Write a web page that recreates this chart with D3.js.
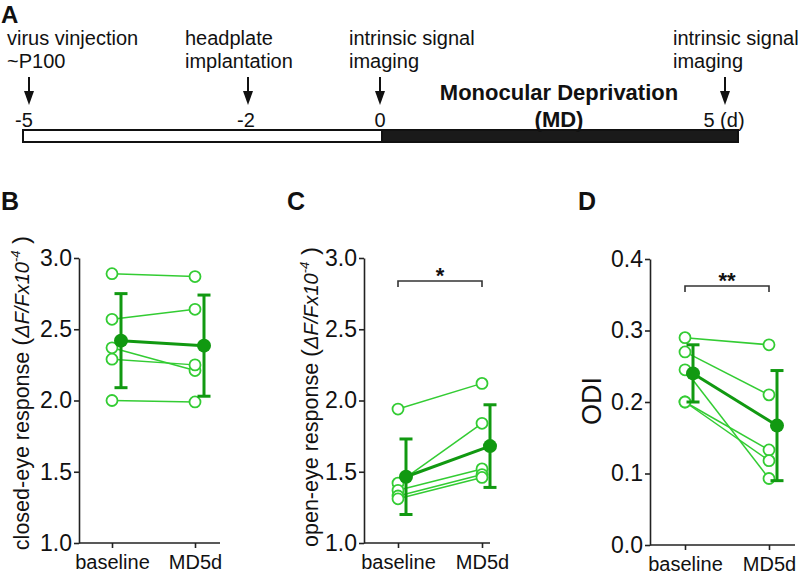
<!DOCTYPE html>
<html>
<head>
<meta charset="utf-8">
<script src="https://cdn.jsdelivr.net/npm/d3@7/dist/d3.min.js"></script>
<style>
  html, body { margin: 0; padding: 0; background: #fff; }
  svg { display: block; }
  text { font-family: "Liberation Sans", Arial, Helvetica, sans-serif; fill: #111; }
</style>
</head>
<body>
<div id="chart"></div>
<script>
// ---------------- DATA ----------------
const categories = ["baseline", "MD5d"];

// Panel B: closed-eye response
const closedBaseline = [2.89, 2.57, 2.37, 2.29, 2.00];
const closedMD5d     = [2.87, 2.64, 2.21, 2.25, 1.99];
const closedMean     = [2.42, 2.385];
const closedSD       = [0.33, 0.355];

// Panel C: open-eye response
const openBaseline = [1.94, 1.42, 1.37, 1.33, 1.31];
const openMD5d     = [2.12, 1.84, 1.52, 1.48, 1.46];
const openMean     = [1.465, 1.68];
const openSD       = [0.265, 0.29];

// Panel D: ODI
const odiBaseline = [0.29, 0.27, 0.245, 0.20, 0.20];
const odiMD5d     = [0.28, 0.21, 0.093, 0.133, 0.118];
const odiMean     = [0.24, 0.167];
const odiSD       = [0.04, 0.077];

const respTicks = [1.0, 1.5, 2.0, 2.5, 3.0];
const odiTicks  = [0.0, 0.1, 0.2, 0.3, 0.4];

// Panel A: timeline
const eventDays   = [-5, -2, 0, 5];
const eventLabels = [["virus vinjection", "~P100"], ["headplate", "implantation"],
                     ["intrinsic signal", "imaging"], ["intrinsic signal", "imaging"]];
const dayTickLabels = ["-5", "-2", "0", "5 (d)"];
const mdLabel = ["Monocular Deprivation", "(MD)"];

// ---------------- LAYOUT ----------------
const W = 800, H = 574;
const FONT = '"Liberation Sans", Arial, Helvetica, sans-serif';
const cInd = "#33cc33", cMean = "#119911";

const svg = d3.select("#chart").append("svg").attr("width", W).attr("height", H);

// Panel letters
const letters = [["A", 1, 23, 24], ["B", 1, 210, 25], ["C", 287, 210, 25], ["D", 578, 210, 25]];
svg.selectAll("text.letter").data(letters).join("text")
  .attr("class", "letter").attr("x", d => d[1]).attr("y", d => d[2])
  .attr("font-size", d => d[3]).attr("font-weight", "bold").text(d => d[0]);

// ---------- Panel A ----------
const tx = d3.scaleLinear().domain([-5, 5]).range([27, 737]);
const barL = 23, barR = 738, barY = 130, barH = 12;
svg.append("rect").attr("x", barL).attr("y", barY).attr("width", tx(0) - barL).attr("height", barH)
  .attr("fill", "#fff").attr("stroke", "#111").attr("stroke-width", 2);
svg.append("rect").attr("x", tx(0)).attr("y", barY).attr("width", barR - tx(0)).attr("height", barH)
  .attr("fill", "#1a1a1a").attr("stroke", "#111").attr("stroke-width", 2);

const arrowDx = [2, 8, -2, -12];
const labelDx = [-20, -55, -33, -64];
const tickDx  = [-3, 6, -2, -13];
eventDays.forEach((d, i) => {
  const x = tx(d) + arrowDx[i];
  svg.append("line").attr("x1", x).attr("x2", x).attr("y1", 77).attr("y2", 95)
    .attr("stroke", "#111").attr("stroke-width", 2);
  svg.append("path").attr("d", `M${x - 5},${91} L${x + 5},${91} L${x},${105} Z`).attr("fill", "#111");
  const t = svg.append("text").attr("x", tx(d) + labelDx[i]).attr("font-size", 20);
  eventLabels[i].forEach((s, j) => {
    t.append("tspan").attr("x", tx(d) + labelDx[i]).attr("y", 45 + j * 23).text(s);
  });
  svg.append("text").attr("x", tx(d) + tickDx[i]).attr("y", 127).attr("font-size", 20)
    .attr("text-anchor", "middle").text(dayTickLabels[i]);
});
mdLabel.forEach((s, j) => {
  svg.append("text").attr("x", 559).attr("y", 100 + j * 27).attr("font-size", 22)
    .attr("font-weight", "bold").attr("text-anchor", "middle").text(s);
});

// ---------- Panels B, C, D ----------
function drawPanel(cfg) {
  const y = d3.scaleLinear().domain(cfg.domain).range(cfg.yRange);
  const x = d3.scalePoint().domain(categories).range(cfg.xRange);
  const g = svg.append("g");

  // y axis
  const ya = g.append("g").attr("transform", `translate(${cfg.axisX},0)`)
    .call(d3.axisLeft(y).tickValues(cfg.ticks).tickFormat(d3.format(".1f")).tickSize(5).tickSizeOuter(0).tickPadding(2));
  ya.select(".domain").attr("stroke", "#222").attr("stroke-width", 1.6);
  ya.selectAll(".tick line").attr("stroke", "#222").attr("stroke-width", 1.6);
  ya.selectAll(".tick text").attr("font-size", 23).attr("font-family", FONT).attr("fill", "#111");

  // x axis
  const xa = g.append("g").attr("transform", `translate(0,${cfg.yRange[0]})`)
    .call(d3.axisBottom(x).tickSize(5).tickSizeOuter(0).tickPadding(7));
  xa.select(".domain").remove();
  xa.selectAll(".tick line").attr("stroke", "#222").attr("stroke-width", 1.6);
  xa.selectAll(".tick text").attr("font-size", 20).attr("font-family", FONT).attr("fill", "#111");
  g.append("line").attr("x1", cfg.axisX).attr("x2", cfg.xEnd)
    .attr("y1", cfg.yRange[0]).attr("y2", cfg.yRange[0]).attr("stroke", "#222").attr("stroke-width", 1.6);

  const b = cfg.base, m = cfg.md;
  const xi = c => x(c) + cfg.indDx;
  const xm = c => x(c) + cfg.meanDx;

  // individual lines
  g.selectAll("line.ind").data(b.map((v, i) => [v, m[i]])).join("line")
    .attr("x1", xi(categories[0])).attr("x2", xi(categories[1]))
    .attr("y1", d => y(d[0])).attr("y2", d => y(d[1]))
    .attr("stroke", cInd).attr("stroke-width", 1.5);
  // individual circles
  [b, m].forEach((arr, k) => {
    g.selectAll(null).data(arr).join("circle")
      .attr("cx", xi(categories[k])).attr("cy", d => y(d)).attr("r", 5.5)
      .attr("fill", "#fff").attr("stroke", cInd).attr("stroke-width", 1.8);
  });
  // mean line
  g.append("line").attr("x1", xm(categories[0])).attr("x2", xm(categories[1]))
    .attr("y1", y(cfg.mean[0])).attr("y2", y(cfg.mean[1]))
    .attr("stroke", cMean).attr("stroke-width", 3);
  // error bars
  categories.forEach((c, k) => {
    const hi = y(cfg.mean[k] + cfg.sd[k]), lo = y(cfg.mean[k] - cfg.sd[k]);
    g.append("line").attr("x1", xm(c)).attr("x2", xm(c)).attr("y1", hi).attr("y2", lo)
      .attr("stroke", cMean).attr("stroke-width", 3);
    [hi, lo].forEach(yy => g.append("line").attr("x1", xm(c) - 6.5).attr("x2", xm(c) + 6.5)
      .attr("y1", yy).attr("y2", yy).attr("stroke", cMean).attr("stroke-width", 3));
    g.append("circle").attr("cx", xm(c)).attr("cy", y(cfg.mean[k])).attr("r", 7).attr("fill", cMean);
  });

  // significance bracket
  if (cfg.sig) {
    const by = cfg.sig.y;
    const x0 = x(categories[0]), x1 = x(categories[1]);
    g.append("path").attr("d", `M${x0},${by + 6} V${by} H${x1} V${by + 6}`)
      .attr("fill", "none").attr("stroke", "#333").attr("stroke-width", 1.6);
    g.append("text").attr("x", (x0 + x1) / 2).attr("y", by + 2).attr("text-anchor", "middle")
      .attr("font-size", 22).attr("font-weight", "bold").text(cfg.sig.label);
  }

  // y label
  const lab = g.append("text")
    .attr("transform", `translate(${cfg.labelX},${cfg.labelY}) rotate(-90)`)
    .attr("text-anchor", "middle");
  if (cfg.unit) {
    lab.append("tspan").attr("font-size", 21.5).text(cfg.label + " ");
    lab.append("tspan").attr("font-size", 24).text("(");
    lab.append("tspan").attr("font-size", 20).attr("font-style", "italic").text("ΔF/Fx10");
    lab.append("tspan").attr("font-size", 13).attr("font-style", "italic").attr("dy", -9).text("-4");
    lab.append("tspan").attr("font-size", 24).attr("dy", 9).text(" )");
  } else {
    lab.attr("font-size", 27).text(cfg.label);
  }
}

drawPanel({ domain: [1, 3], ticks: respTicks, yRange: [543, 258], xRange: [112, 195],
  axisX: 79, xEnd: 220, indDx: 0, meanDx: 9,
  base: closedBaseline, md: closedMD5d, mean: closedMean, sd: closedSD,
  label: "closed-eye response", unit: true, labelX: 29, labelY: 393 });

drawPanel({ domain: [1, 3], ticks: respTicks, yRange: [543, 258], xRange: [398, 482],
  axisX: 364, xEnd: 490, indDx: 0, meanDx: 8,
  base: openBaseline, md: openMD5d, mean: openMean, sd: openSD,
  label: "open-eye response", unit: true, labelX: 318, labelY: 397,
  sig: { y: 281, label: "*" } });

drawPanel({ domain: [0, 0.4], ticks: odiTicks, yRange: [545, 259], xRange: [685, 769],
  axisX: 650, xEnd: 795, indDx: 0, meanDx: 8,
  base: odiBaseline, md: odiMD5d, mean: odiMean, sd: odiSD,
  label: "ODI", unit: false, labelX: 601, labelY: 401,
  sig: { y: 286, label: "**" } });
</script>
</body>
</html>
